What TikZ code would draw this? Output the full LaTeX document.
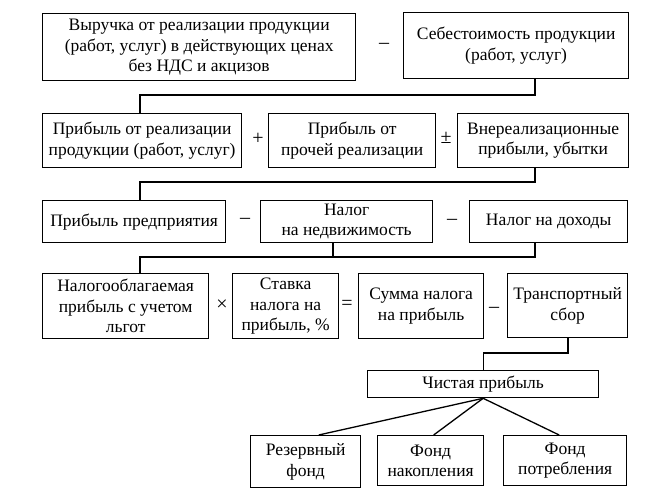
\documentclass[tikz,border=0pt]{standalone}
\usepackage{fontspec}
\setmainfont{Liberation Serif}
\begin{document}
\begin{tikzpicture}[x=1pt,y=-1pt,
  box/.style={draw, line width=1.3pt, align=center, inner sep=0pt, anchor=north west,
    font=\fontsize{17.5}{20.5}\selectfont},
  op/.style={font=\fontsize{20}{20}\selectfont, inner sep=0pt},
  conn/.style={line width=1.3pt}]
\useasboundingbox (0,0) rectangle (646,500);
% Row 1
\node[box, minimum width=313pt, minimum height=67pt] (A) at (42,13)
  {Выручка от реализации продукции\\(работ, услуг) в действующих ценах\\без НДС и акцизов};
\node[op] (m1) at (384,46) {–};
\node[box, minimum width=225pt, minimum height=66pt] (B) at (403,12)
  {Себестоимость продукции\\(работ, услуг)};
% Row 2
\node[box, minimum width=199pt, minimum height=54pt] (R2a) at (42,113)
  {Прибыль от реализации\\продукции (работ, услуг)};
\node[op] (p1) at (258,139) {+};
\node[box, minimum width=167pt, minimum height=54pt] (R2b) at (268,113)
  {Прибыль от\\прочей реализации};
\node[op] (pm) at (446,138) {±};
\node[box, minimum width=171pt, minimum height=54pt] (R2c) at (457,113)
  {Внереализационные\\прибыли, убытки};
% Row 3
\node[box, minimum width=183pt, minimum height=42pt] (R3a) at (42,200)
  {Прибыль предприятия};
\node[op] (m2) at (245,221) {–};
\node[box, minimum width=172pt, minimum height=42pt] (R3b) at (260,200)
  {Налог\\на недвижимость};
\node[op] (m3) at (452,222) {–};
\node[box, minimum width=158pt, minimum height=42pt] (R3c) at (469,200)
  {Налог на доходы};
% Row 4
\node[op] (x1) at (222,305) {×};
\node[box, minimum width=166pt, minimum height=65pt] (R4a) at (42,273)
  {Налогооблагаемая\\прибыль с учетом\\льгот};
\node[box, minimum width=106pt, minimum height=65pt] (R4b) at (232,273)
  {Ставка\\налога на\\прибыль, \%};
\node[op] (eq) at (347,305) {=};
\node[box, minimum width=125pt, minimum height=65pt] (R4c) at (358,273)
  {Сумма налога\\на прибыль};
\node[op] (m4) at (494,310) {–};
\node[box, minimum width=120pt, minimum height=64pt] (R4d) at (507,273)
  {Транспортный\\сбор};
% Net profit
\node[box, minimum width=231pt, minimum height=27pt] (N) at (367,370)
  {Чистая прибыль};
% Funds
\node[box, minimum width=110pt, minimum height=52pt] (F1) at (250,435)
  {Резервный\\фонд};
\node[box, minimum width=106pt, minimum height=50pt] (F2) at (377,435)
  {Фонд\\накопления};
\node[box, minimum width=123pt, minimum height=50pt] (F3) at (503,435)
  {Фонд\\потребления};
% connectors
\coordinate (j1) at (140,95);
\coordinate (k1) at (535,95);
\draw[conn] (k1 |- B.south) -- (k1) -- (j1) -- (j1 |- R2a.north);
\coordinate (j2) at (140,182);
\coordinate (k2) at (535,182);
\draw[conn] (k2 |- R2c.south) -- (k2) -- (j2) -- (j2 |- R3a.north);
\coordinate (j3) at (140,257);
\coordinate (k3) at (535,257);
\coordinate (l3) at (333,257);
\draw[conn] (k3 |- R3c.south) -- (k3) -- (j3) -- (j3 |- R4a.north);
\draw[conn] (l3 |- R3b.south) -- (l3);
\coordinate (k4) at (568,353);
\draw[conn] (k4 |- R4d.south) -- (k4) -| (N.north);
\draw[conn] (N.south) -- ([xshift=13pt]F1.north);
\draw[conn] (N.south) -- ([xshift=3pt]F2.north);
\draw[conn] (N.south) -- ([xshift=-6pt]F3.north);
\end{tikzpicture}
\end{document}
